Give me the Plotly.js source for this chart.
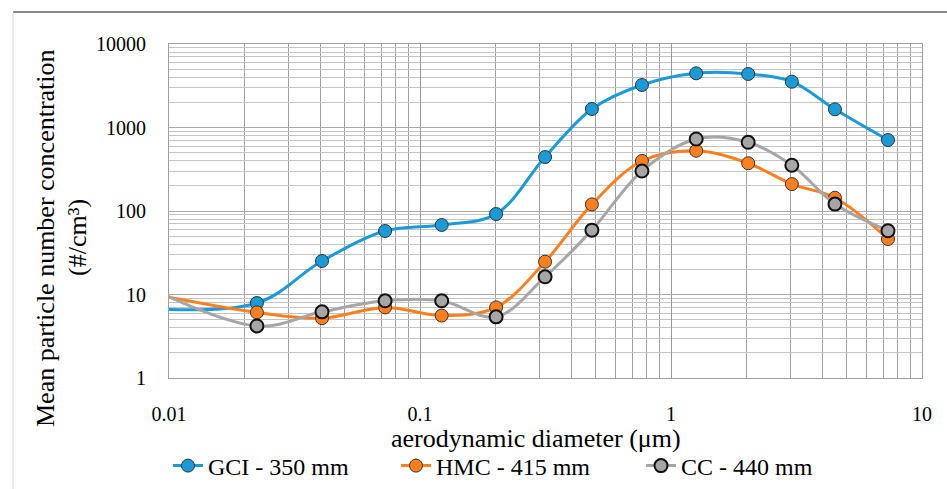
<!DOCTYPE html>
<html>
<head>
<meta charset="utf-8">
<script src="https://cdn.plot.ly/plotly-3.0.1.min.js"></script>
<style>html,body{margin:0;padding:0;background:#fff;}#chart{width:947px;height:489px;}</style>
</head>
<body>
<div id="chart"></div>
<script>
// aerodynamic diameter (µm); first point lies left of the axis range (line enters from the left)
const diameters = [0.007, 0.0224, 0.0407, 0.0726, 0.122, 0.201, 0.315, 0.484, 0.766, 1.26, 2.03, 3.03, 4.50, 7.32];
const gci = [7.0, 7.9, 25.2, 57.6, 68, 92, 443, 1666, 3230, 4456, 4373, 3537, 1651, 708];
const hmc = [11.4, 6.1, 5.2, 7.0, 5.6, 7.0, 24.7, 120, 397, 527, 373, 210, 144, 46.2];
const cc  = [15.5, 4.2, 6.2, 8.4, 8.4, 5.4, 16.3, 59, 301, 728, 665, 353, 121, 58];
const seriesNames = ["GCI - 350 mm", "HMC - 415 mm", "CC - 440 mm"];
const xTickVals = [0.01, 0.1, 1, 10];
const xTickText = ["0.01", "0.1", "1", "10"];
const yTickVals = [1, 10, 100, 1000, 10000];
const yTickText = ["1", "10", "100", "1000", "10000"];
const xTitle = "aerodynamic diameter (μm)";
const yTitle1 = "Mean particle number concentration";
const yTitle2 = "(#/cm³)";

const FONT = "'Liberation Serif', 'Times New Roman', serif";
function series(y, name, color, outline, olw, leg) {
  return {
    x: diameters, y: y, name: name, type: "scatter", mode: "lines+markers",
    line: {color: color, width: 3, shape: "spline", smoothing: 1},
    marker: {size: 13, color: color, line: {color: outline, width: olw}},
    cliponaxis: true, legend: leg
  };
}
const data = [
  series(gci, seriesNames[0], "#1a9ad6", "#333333", 1, "legend"),
  series(hmc, seriesNames[1], "#ff7f1e", "#333333", 1, "legend2"),
  series(cc, seriesNames[2], "#a6a6a6", "#111111", 2, "legend3")
];
const pxX = v => (v - 169) / 753;
const pxY = v => (378 - v) / 334;
function leg(xpx) {
  return {orientation: "h", x: pxX(xpx), xanchor: "left", y: pxY(466), yanchor: "middle",
          font: {family: FONT, size: 24}, itemwidth: 30, bgcolor: "rgba(0,0,0,0)"};
}
const layout = {
  width: 947, height: 489,
  margin: {l: 169, r: 25, t: 44, b: 111, autoexpand: false},
  paper_bgcolor: "#fff", plot_bgcolor: "#fff",
  font: {family: FONT, size: 20, color: "#000"},
  showlegend: true,
  legend: leg(168), legend2: leg(396), legend3: leg(641),
  xaxis: {
    type: "log", range: [-2, 1], tickvals: xTickVals, ticktext: xTickText,
    showgrid: true, gridcolor: "#999999", gridwidth: 1,
    minor: {dtick: "D1", showgrid: true, gridcolor: "#a0a0a0", gridwidth: 1, ticklen: 0},
    zeroline: false, showline: true, linecolor: "#a0a0a0", mirror: true, ticks: "",
    tickfont: {family: FONT, size: 20}, ticklabelstandoff: 18
  },
  yaxis: {
    type: "log", range: [0, 4], tickvals: yTickVals, ticktext: yTickText,
    showgrid: true, gridcolor: "#aaaaaa", gridwidth: 1,
    minor: {dtick: "D1", showgrid: true, gridcolor: "#c4c4c4", gridwidth: 1, ticklen: 0},
    zeroline: false, showline: true, linecolor: "#a0a0a0", mirror: true, ticks: "",
    tickfont: {family: FONT, size: 20}, ticklabelstandoff: 18
  },
  annotations: [
    {text: xTitle, xref: "paper", yref: "paper", x: pxX(536), y: pxY(438), xanchor: "center", yanchor: "middle",
     showarrow: false, font: {family: FONT, size: 26}},
    {text: yTitle1, xref: "paper", yref: "paper", x: pxX(45), y: pxY(238), xanchor: "center", yanchor: "middle",
     textangle: -90, showarrow: false, font: {family: FONT, size: 26}},
    {text: yTitle2, xref: "paper", yref: "paper", x: pxX(77), y: pxY(238), xanchor: "center", yanchor: "middle",
     textangle: -90, showarrow: false, font: {family: FONT, size: 26}}
  ],
  shapes: [
    {type: "line", xref: "paper", yref: "paper", x0: pxX(13), x1: pxX(947), y0: pxY(12), y1: pxY(12), line: {color: "#8c8c8c", width: 2}},
    {type: "line", xref: "paper", yref: "paper", x0: pxX(13), x1: pxX(13), y0: pxY(12), y1: pxY(489), line: {color: "#d9d9d9", width: 1}}
  ]
};
Plotly.newPlot("chart", data, layout, {displayModeBar: false, staticPlot: true});
</script>
</body>
</html>
